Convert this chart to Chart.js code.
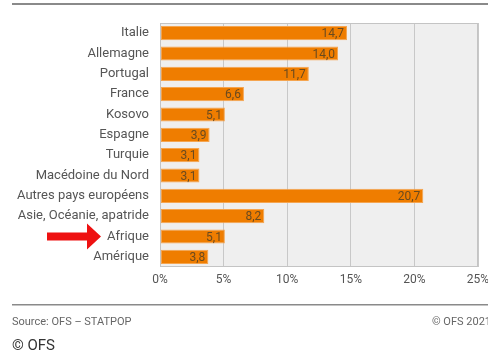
<!DOCTYPE html>
<html><head><meta charset="utf-8">
<script src="https://cdn.jsdelivr.net/npm/chart.js@4/dist/chart.umd.min.js"></script>
<style>html,body{margin:0;padding:0;background:#fff}#w{width:488px;height:354px;position:relative}</style>
</head><body><div id="w"><canvas id="c" width="488" height="354"></canvas></div>
<script>
const categories = ["Italie","Allemagne","Portugal","France","Kosovo","Espagne","Turquie","Macédoine du Nord","Autres pays européens","Asie, Océanie, apatride","Afrique","Amérique"];
const values = [14.7,14.0,11.7,6.6,5.1,3.9,3.1,3.1,20.7,8.2,5.1,3.8];
const xTicks = [0,5,10,15,20,25];
const sourceText = "Source: OFS – STATPOP";
const copyrightText = "© OFS 2021";
const footerText = "© OFS";
const highlighted = "Afrique";

const FONT = "Roboto, 'Noto Sans', sans-serif";

const decor = {
  id:'decor',
  beforeDraw(chart){
    const {ctx, chartArea:a} = chart;
    ctx.save();
    ctx.fillStyle = '#efefef';
    ctx.fillRect(a.left, a.top, a.right-a.left, a.bottom-a.top);
    ctx.restore();
  },
  afterDatasetsDraw(chart){
    const {ctx, chartArea:a} = chart;
    const meta = chart.getDatasetMeta(0);
    ctx.save();
    ctx.strokeStyle = '#c4c4c4'; ctx.lineWidth = 1;
    ctx.strokeRect(a.left+0.5, a.top+0.5, a.right-a.left-1, a.bottom-a.top-1);
    ctx.font = "12px " + FONT;
    ctx.fillStyle = '#6a4a1e';
    ctx.textAlign = 'right'; ctx.textBaseline = 'middle';
    meta.data.forEach((bar,i)=>{
      ctx.fillText(values[i].toFixed(1).replace('.',','), bar.x-3, bar.y+1);
    });
    const yi = categories.indexOf(highlighted);
    const y = chart.scales.y.getPixelForValue(yi);
    ctx.fillStyle = '#ee1111';
    ctx.beginPath();
    ctx.moveTo(47, y-4); ctx.lineTo(87, y-4); ctx.lineTo(87, y-13);
    ctx.lineTo(101, y); ctx.lineTo(87, y+13); ctx.lineTo(87, y+4);
    ctx.lineTo(47, y+4); ctx.closePath(); ctx.fill();
    ctx.fillStyle = '#8a8a8a';
    ctx.fillRect(12, 3, 476, 2);
    ctx.fillRect(12, 304, 476, 1.5);
    ctx.font = "11px " + FONT; ctx.fillStyle = '#666';
    ctx.textAlign = 'left'; ctx.textBaseline = 'middle';
    ctx.fillText(sourceText, 12, 322);
    ctx.textAlign = 'right';
    ctx.fillText(copyrightText, 491, 322);
    ctx.font = "15px " + FONT; ctx.fillStyle = '#333';
    ctx.textAlign = 'left';
    ctx.fillText(footerText, 12, 346);
    ctx.restore();
  }
};

new Chart(document.getElementById('c'), {
  type:'bar',
  data:{labels:categories, datasets:[{data:values, backgroundColor:'#ef7d00', borderColor:'#f5a550', borderWidth:1, borderSkipped:false, categoryPercentage:1, barPercentage:0.7}]},
  options:{
    indexAxis:'y', responsive:false, animation:false, devicePixelRatio:1,
    layout:{padding:{top:23, right:0, bottom:67, left:0}},
    plugins:{legend:{display:false}, tooltip:{enabled:false}},
    scales:{
      x:{min:0, max:25, afterBuildTicks(s){s.ticks = xTicks.map(v=>({value:v}));},
        afterFit(s){s.height = 20; s.paddingRight = 10;},
        grid:{color:'#c8c8c8', drawTicks:false, lineWidth:1}, border:{display:false},
        ticks:{padding:6, color:'#555', font:{family:FONT, size:12}, callback:v=>v+'%'}},
      y:{afterFit(s){s.width = 160;},
        grid:{display:false, drawTicks:false}, border:{display:false},
        ticks:{padding:11, color:'#555', font:{family:FONT, size:13}, autoSkip:false}}
    }
  },
  plugins:[decor]
});
</script></body></html>
